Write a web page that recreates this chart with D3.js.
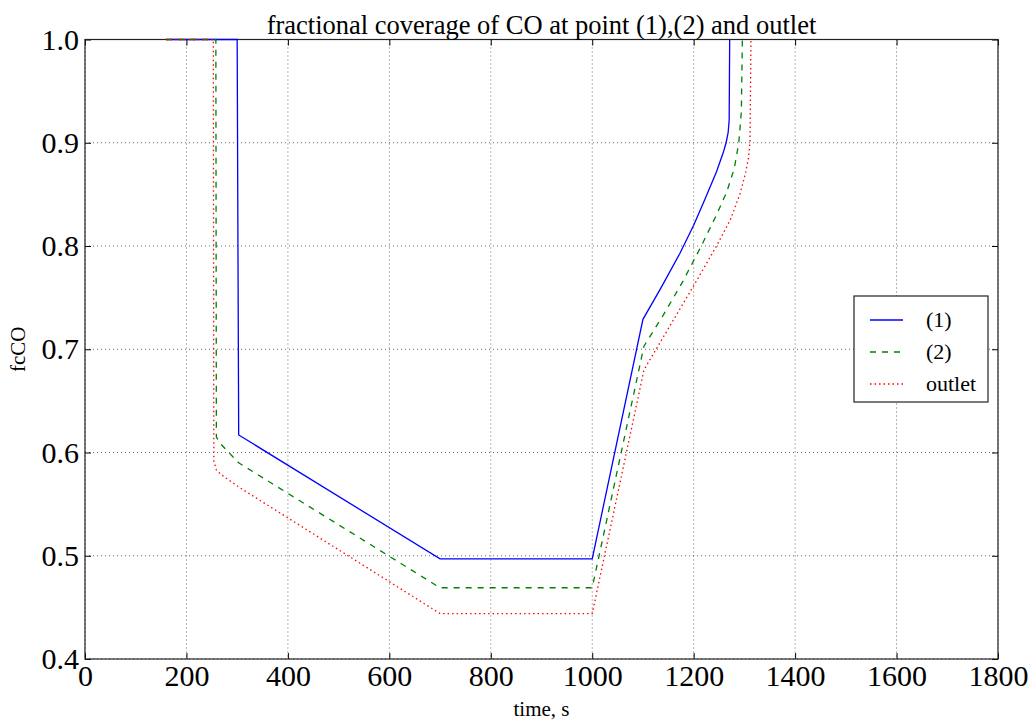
<!DOCTYPE html>
<html><head><meta charset="utf-8">
<script src="https://cdn.jsdelivr.net/npm/d3@7"></script>
<style>body{margin:0;background:#fff;} svg{display:block;}</style>
</head><body>
<script>
const title = "fractional coverage of CO at point (1),(2) and outlet";
const xLabel = "time, s";
const yLabel = "fcCO";
const xTicks = [0,200,400,600,800,1000,1200,1400,1600,1800];
const yTicks = [0.4,0.5,0.6,0.7,0.8,0.9,1.0];
const seriesNames = ["(1)","(2)","outlet"];
const point1 = [[160,1],[300,1],[303,0.617],[700,0.497],[1000,0.497],[1100,0.729],[1135,0.759],[1173,0.793],[1200,0.82],[1222,0.845],[1245,0.872],[1258,0.89],[1264,0.9],[1268,0.91],[1270,0.922],[1271,1.0]];
const point2 = [[160,1],[258,1],[259,0.615],[270,0.607],[303,0.59],[700,0.469],[1000,0.469],[1102,0.703],[1140,0.733],[1179,0.766],[1215,0.8],[1243,0.828],[1265,0.852],[1280,0.875],[1289,0.9],[1294,0.93],[1296,1.0]];
const outlet = [[160,1],[253,1],[254,0.592],[259,0.583],[270,0.578],[305,0.566],[700,0.444],[1000,0.444],[1102,0.68],[1150,0.72],[1203,0.764],[1245,0.8],[1272,0.825],[1291,0.85],[1302,0.87],[1308,0.885],[1311,0.9],[1313,1.0]];

const W=1030,H=722;
const m={l:85,r:998,t:39.5,b:659};
const svg=d3.select("body").append("svg").attr("width",W).attr("height",H);
const x=d3.scaleLinear().domain([0,1800]).range([m.l,m.r]);
const y=d3.scaleLinear().domain([0.4,1.0]).range([m.b,m.t]);
const serif="'Liberation Serif','Times New Roman',serif";

// grid
const g=svg.append("g");
g.selectAll("line.gx").data(xTicks).join("line")
 .attr("x1",d=>x(d)).attr("x2",d=>x(d)).attr("y1",m.t).attr("y2",m.b)
 .attr("stroke","#000").attr("stroke-width",0.6).attr("stroke-dasharray","1,3");
g.selectAll("line.gy").data(yTicks).join("line")
 .attr("y1",d=>y(d)).attr("y2",d=>y(d)).attr("x1",m.l).attr("x2",m.r)
 .attr("stroke","#000").attr("stroke-width",0.6).attr("stroke-dasharray","1,3");

// axes with inward ticks
const axB=d3.axisBottom(x).tickValues(xTicks).tickSize(-6).tickPadding(6).tickFormat(d3.format("d"));
const axT=d3.axisTop(x).tickValues(xTicks).tickSize(-6).tickFormat("");
const axL=d3.axisLeft(y).tickValues(yTicks).tickSize(-6).tickPadding(6).tickFormat(d3.format(".1f"));
const axR=d3.axisRight(y).tickValues(yTicks).tickSize(-6).tickFormat("");
function style(sel){sel.select(".domain").remove();sel.selectAll("line").attr("stroke","#000");sel.selectAll("text").attr("font-family",serif).attr("font-size",30).attr("fill","#000");}
svg.append("g").attr("transform",`translate(0,${m.b})`).call(axB).call(style);
svg.append("g").attr("transform",`translate(0,${m.t})`).call(axT).call(style);
svg.append("g").attr("transform",`translate(${m.l},0)`).call(axL).call(style);
svg.append("g").attr("transform",`translate(${m.r},0)`).call(axR).call(style);
svg.append("rect").attr("x",m.l).attr("y",m.t).attr("width",m.r-m.l).attr("height",m.b-m.t)
 .attr("fill","none").attr("stroke","#222").attr("stroke-width",1.2);

// lines (drawn over the frame)
const line=d3.line().x(d=>x(d[0])).y(d=>y(d[1]));
const data=[point1,point2,outlet];
const colors=["#0000ff","#008000","#ff0000"];
const dashes=[null,"6,6","1.5,3"];
data.forEach((s,i)=>{
 svg.append("path").datum(s).attr("d",line).attr("fill","none")
  .attr("stroke",colors[i]).attr("stroke-width",1.3)
  .attr("stroke-dasharray",dashes[i]);
});

// labels
svg.append("text").attr("x",(m.l+m.r)/2).attr("y",34).attr("text-anchor","middle")
 .attr("font-family",serif).attr("font-size",26.5).text(title);
svg.append("text").attr("x",(m.l+m.r)/2).attr("y",716).attr("text-anchor","middle")
 .attr("font-family",serif).attr("font-size",21).text(xLabel);
svg.append("text").attr("transform",`translate(25,${(m.t+m.b)/2}) rotate(-90)`).attr("text-anchor","middle")
 .attr("font-family",serif).attr("font-size",21).text(yLabel);

// legend
const lg=svg.append("g");
lg.append("rect").attr("x",854).attr("y",296).attr("width",134).attr("height",106)
 .attr("fill","#fff").attr("stroke","#222").attr("stroke-width",1.2);
seriesNames.forEach((n,i)=>{
 const yy=320+i*32;
 lg.append("line").attr("x1",870).attr("x2",903).attr("y1",yy).attr("y2",yy)
  .attr("stroke",colors[i]).attr("stroke-width",1.3).attr("stroke-dasharray",dashes[i]);
 lg.append("text").attr("x",926).attr("y",yy+7).attr("font-family",serif).attr("font-size",22).text(n);
});
</script>
</body></html>
